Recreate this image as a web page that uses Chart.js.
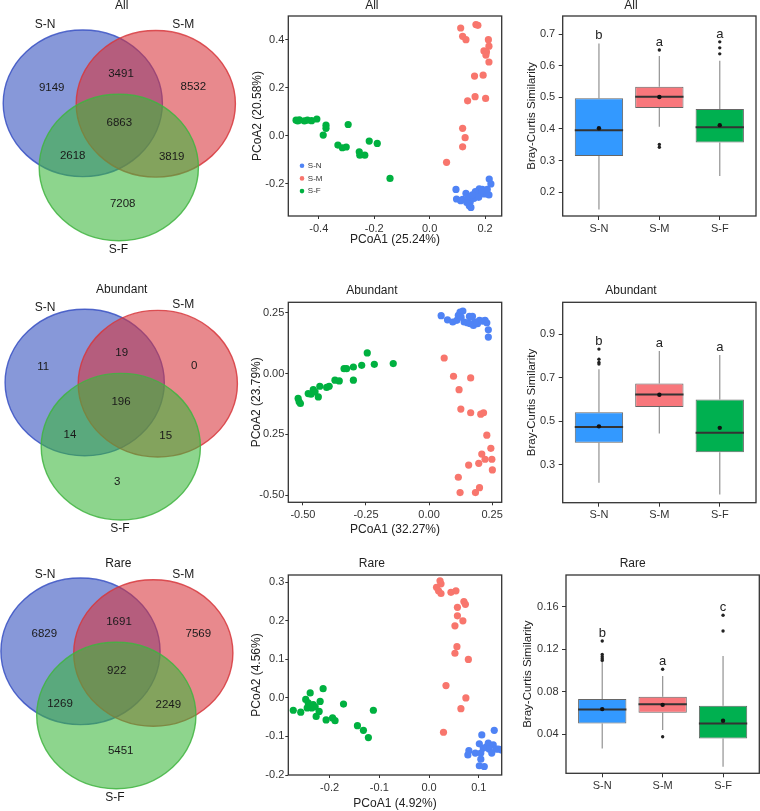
<!DOCTYPE html>
<html>
<head>
<meta charset="utf-8">
<script src="https://cdn.jsdelivr.net/npm/chart.js@4.4.1/dist/chart.umd.min.js"></script>
<style>
  body { margin: 0; background: #fff; width: 760px; height: 811px; overflow: hidden; position: relative; }
  canvas { position: absolute; }
</style>
</head>
<body>
<script>
// ---- data ----
const groups = ['S-N', 'S-M', 'S-F'];

// Venn counts: [N only, M only, F only, N&M, N&F, M&F, all three]
const vennAll = [9149, 8532, 7208, 3491, 2618, 3819, 6863];
const vennAbundant = [11, 0, 3, 19, 14, 15, 196];
const vennRare = [6829, 7569, 5451, 1691, 1269, 2249, 922];

// PCoA scores [PCoA1, PCoA2]
const allN = [[0.095,-0.224],[0.097,-0.264],[0.119,-0.265],[0.131,-0.240],[0.140,-0.257],[0.146,-0.278],[0.143,-0.292],[0.149,-0.299],[0.160,-0.261],[0.172,-0.238],[0.179,-0.222],[0.188,-0.236],[0.197,-0.243],[0.206,-0.240],[0.214,-0.247],[0.215,-0.181],[0.221,-0.201],[0.165,-0.233],[0.177,-0.257],[0.190,-0.224],[0.208,-0.224],[0.112,-0.271],[0.134,-0.279],[0.154,-0.247]];
const allM = [[0.112,0.450],[0.167,0.464],[0.174,0.461],[0.119,0.415],[0.131,0.401],[0.212,0.401],[0.214,0.374],[0.196,0.354],[0.205,0.350],[0.203,0.337],[0.214,0.308],[0.162,0.249],[0.193,0.253],[0.137,0.146],[0.164,0.163],[0.202,0.156],[0.119,0.031],[0.128,-0.008],[0.119,-0.046],[0.061,-0.111]];
const allF = [[-0.482,0.065],[-0.470,0.066],[-0.441,0.065],[-0.426,0.063],[-0.407,0.070],[-0.374,0.044],[-0.374,0.031],[-0.384,0.003],[-0.294,0.047],[-0.331,-0.039],[-0.315,-0.050],[-0.301,-0.047],[-0.254,-0.067],[-0.252,-0.081],[-0.234,-0.081],[-0.218,-0.022],[-0.189,-0.032],[-0.143,-0.178],[-0.476,0.062],[-0.452,0.062]];

const abN = [[0.048,0.238],[0.073,0.221],[0.094,0.212],[0.110,0.219],[0.116,0.239],[0.123,0.253],[0.134,0.257],[0.127,0.232],[0.139,0.212],[0.152,0.209],[0.160,0.235],[0.172,0.235],[0.176,0.198],[0.192,0.205],[0.200,0.219],[0.212,0.216],[0.222,0.219],[0.229,0.209],[0.235,0.180],[0.235,0.150],[0.183,0.212],[0.163,0.205]];
const abM = [[0.060,0.064],[0.097,-0.011],[0.165,-0.018],[0.119,-0.066],[0.126,-0.146],[0.165,-0.161],[0.205,-0.167],[0.216,-0.161],[0.229,-0.253],[0.245,-0.307],[0.209,-0.331],[0.222,-0.352],[0.249,-0.352],[0.197,-0.369],[0.157,-0.376],[0.251,-0.396],[0.116,-0.426],[0.200,-0.469],[0.123,-0.489],[0.184,-0.489]];
const abF = [[-0.519,-0.102],[-0.515,-0.116],[-0.510,-0.123],[-0.479,-0.082],[-0.468,-0.085],[-0.459,-0.066],[-0.452,-0.075],[-0.439,-0.096],[-0.433,-0.052],[-0.406,-0.057],[-0.396,-0.052],[-0.373,-0.027],[-0.356,-0.030],[-0.337,0.020],[-0.327,0.020],[-0.300,0.027],[-0.300,-0.027],[-0.267,0.034],[-0.245,0.085],[-0.217,0.038],[-0.142,0.041]];

const rareN = [[0.106,-0.096],[0.131,-0.084],[0.119,-0.117],[0.116,-0.126],[0.129,-0.122],[0.135,-0.133],[0.121,-0.133],[0.126,-0.143],[0.109,-0.130],[0.101,-0.119],[0.080,-0.137],[0.078,-0.148],[0.093,-0.143],[0.104,-0.143],[0.104,-0.159],[0.101,-0.176],[0.111,-0.178],[0.140,-0.133],[0.146,-0.135]];
const rareM = [[0.022,0.304],[0.024,0.296],[0.015,0.287],[0.019,0.278],[0.024,0.271],[0.044,0.274],[0.054,0.278],[0.070,0.250],[0.073,0.243],[0.057,0.235],[0.057,0.213],[0.068,0.200],[0.052,0.187],[0.056,0.133],[0.052,0.116],[0.079,0.100],[0.034,0.032],[0.074,0.000],[0.064,-0.028],[0.029,-0.089]];
const rareF = [[-0.273,-0.032],[-0.258,-0.037],[-0.248,-0.004],[-0.243,-0.013],[-0.239,-0.022],[-0.236,-0.026],[-0.245,-0.026],[-0.239,0.013],[-0.233,-0.017],[-0.229,-0.023],[-0.227,-0.048],[-0.221,-0.035],[-0.219,-0.009],[-0.213,0.024],[-0.207,-0.057],[-0.194,-0.052],[-0.189,-0.059],[-0.172,-0.016],[-0.144,-0.072],[-0.132,-0.084],[-0.122,-0.103],[-0.112,-0.032]];

// PCoA axis ranges and ticks
const allXRange = [-0.51, 0.26], allYRange = [-0.335, 0.5];
const allXTicks = [-0.4, -0.2, 0, 0.2], allXLabels = ['-0.4', '-0.2', '0.0', '0.2'];
const allYTicks = [-0.2, 0, 0.2, 0.4], allYLabels = ['-0.2', '0.0', '0.2', '0.4'];
const abXRange = [-0.558, 0.288], abYRange = [-0.529, 0.293];
const abXTicks = [-0.5, -0.25, 0, 0.25], abXLabels = ['-0.50', '-0.25', '0.00', '0.25'];
const abYTicks = [-0.5, -0.25, 0, 0.25], abYLabels = ['-0.50', '0.25', '0.00', '0.25'];
const rareXRange = [-0.283, 0.146], rareYRange = [-0.2, 0.319];
const rareXTicks = [-0.2, -0.1, 0, 0.1], rareXLabels = ['-0.2', '-0.1', '0.0', '0.1'];
const rareYTicks = [-0.2, -0.1, 0, 0.1, 0.2, 0.3], rareYLabels = ['-0.2', '-0.1', '0.0', '0.1', '0.2', '0.3'];

// Bray-Curtis boxes: [lower whisker, Q1, median, Q3, upper whisker]
const allBox = [[0.145, 0.314, 0.396, 0.497, 0.671], [0.407, 0.466, 0.502, 0.534, 0.631], [0.251, 0.357, 0.405, 0.463, 0.616]];
const allMeans = [0.402, 0.501, 0.412];
const allOutliers = [[], [0.650, 0.351, 0.342], [0.638, 0.657, 0.676]];
const allLetters = ['b', 'a', 'a'];
const abBox = [[0.218, 0.402, 0.474, 0.542, 0.739], [0.444, 0.566, 0.623, 0.674, 0.823], [0.164, 0.358, 0.447, 0.600, 0.805]];
const abMeans = [0.477, 0.622, 0.470];
const abOutliers = [[0.832, 0.785, 0.770, 0.763], [], []];
const abLetters = ['b', 'a', 'a'];
const rareBox = [[0.0267, 0.0502, 0.0634, 0.0731, 0.108], [0.0440, 0.0602, 0.0682, 0.0753, 0.0948], [0.0094, 0.0361, 0.0502, 0.0668, 0.1136]];
const rareMeans = [0.0637, 0.0677, 0.0527];
const rareOutliers = [[0.1277, 0.1150, 0.1130, 0.1110, 0.1095], [0.1011, 0.0377], [0.1371, 0.1520]];
const rareLetters = ['b', 'a', 'c'];

const allBoxRange = [0.124, 0.758], allBoxTicks = [0.2, 0.3, 0.4, 0.5, 0.6, 0.7];
const abBoxRange = [0.126, 1.047], abBoxTicks = [0.3, 0.5, 0.7, 0.9];
const rareBoxRange = [0.0033, 0.1898], rareBoxTicks = [0.04, 0.08, 0.12, 0.16];

// ---- styles & layout ----
const FONT = '"Liberation Sans", Arial, Helvetica, sans-serif';
const pointColors = ['#4F83F5', '#F8766D', '#00B140'];
const boxColors = ['#3399FF', '#F8777C', '#00B050'];
const vennFill = ['rgba(48,78,190,0.58)', 'rgba(215,52,58,0.58)', 'rgba(58,182,58,0.58)'];
const vennLine = ['rgba(55,80,195,0.85)', 'rgba(215,55,60,0.85)', 'rgba(65,180,65,0.85)'];
const vennRadius = [79.6, 73.3];

const vennLayouts = [
  { centers: [[82.8,103.3],[155.8,103.8],[118.8,167.5]], counts: [[51.7,88.3],[193.3,87.3],[122.7,204],[121,74],[72.7,156],[171.7,157.3],[119.3,123.3]], labels: [[45,25],[183.3,25],[118.3,250]], title: [121.7,6] },
  { centers: [[84.7,112.5],[157.8,113.7],[120.8,176.7]], counts: [[43.3,96.7],[194.3,95.7],[117.3,212.3],[121.7,82.7],[70,165],[165.7,166],[121,131.7]], labels: [[45,37.3],[183.3,35],[120,258.3]], title: [121.7,20] },
  { centers: [[80.5,111.3],[153.3,113],[116.3,175.5]], counts: [[44.3,94],[198.3,94.3],[120.7,211],[119,81.7],[60,164],[168.3,165],[116.7,131]], labels: [[45,35],[183.3,35],[115,257.3]], title: [118.3,23.3] }
];

Chart.defaults.font.family = FONT;
Chart.defaults.color = '#333';
Chart.defaults.animation = false;
Chart.defaults.responsive = false;
Chart.defaults.devicePixelRatio = 1;
Chart.defaults.events = [];
Chart.defaults.plugins.legend.display = false;
Chart.defaults.plugins.tooltip.enabled = false;

function addCanvas(left, top, w, h) {
  const c = document.createElement('canvas');
  c.width = w; c.height = h;
  c.style.left = left + 'px'; c.style.top = top + 'px';
  c.style.width = w + 'px'; c.style.height = h + 'px';
  document.body.appendChild(c);
  return c;
}

const framePlugin = {
  id: 'frame',
  afterDatasetsDraw(chart) {
    const { ctx, chartArea: a } = chart;
    ctx.save();
    ctx.strokeStyle = '#333';
    ctx.lineWidth = 1.3;
    ctx.strokeRect(a.left, a.top, a.right - a.left, a.bottom - a.top);
    ctx.restore();
  }
};

function geometry(p, cl, titleY, bottom) {
  const ct = Math.round(p.t - 30);
  const cw = Math.round(p.r - cl) + 6;
  const ch = Math.round(bottom - ct);
  const tTop = titleY - ct - 7.2;
  return { ct, cw, ch, padRight: cw - (p.r - cl), titlePad: { top: tTop, bottom: (p.t - ct) - 14.4 - tTop }, yWidth: p.l - cl, xHeight: (ct + ch) - p.b };
}

function axis(o) {
  const horiz = o.pos === 'x';
  return {
    type: 'linear', min: o.range[0], max: o.range[1], offset: false,
    afterBuildTicks: s => { s.ticks = o.ticks.map(v => ({ value: v })); },
    afterFit: s => { if (horiz) s.height = o.size; else s.width = o.size; },
    ticks: { autoSkip: false, maxRotation: 0, padding: o.pad, font: { size: 11 }, color: '#333', callback: (v, i) => o.labels[i] },
    grid: { drawOnChartArea: false, drawTicks: true, tickLength: o.tl, color: '#333', offset: false },
    border: { display: false },
    title: o.title ? { display: true, text: o.title, font: { size: o.tfs || 12 }, color: '#222', padding: horiz ? { top: 0, bottom: o.tpad } : { top: o.tpad, bottom: 0 } } : { display: false }
  };
}

function vennChart(top, h, title, counts, lay) {
  const canvas = addCanvas(0, top, 240, h);
  new Chart(canvas, {
    type: 'scatter',
    data: { datasets: groups.map((g, i) => ({ label: g, data: [{ x: lay.centers[i][0], y: lay.centers[i][1] }], pointRadius: 0, backgroundColor: vennFill[i], borderColor: vennLine[i] })) },
    options: {
      layout: { padding: 0 },
      scales: { x: { type: 'linear', display: false, min: 0, max: 240 }, y: { type: 'linear', display: false, min: 0, max: h, reverse: true } }
    },
    plugins: [{
      id: 'venn',
      afterDatasetsDraw(chart) {
        const { ctx, scales: { x, y } } = chart;
        const rx = Math.abs(x.getPixelForValue(vennRadius[0]) - x.getPixelForValue(0));
        const ry = Math.abs(y.getPixelForValue(vennRadius[1]) - y.getPixelForValue(0));
        ctx.save();
        chart.data.datasets.forEach((ds, i) => {
          const pt = chart.getDatasetMeta(i).data[0];
          ctx.beginPath();
          ctx.ellipse(pt.x, pt.y, rx, ry, 0, 0, Math.PI * 2);
          ctx.fillStyle = ds.backgroundColor;
          ctx.fill();
          ctx.lineWidth = 1.4;
          ctx.strokeStyle = ds.borderColor;
          ctx.stroke();
        });
        ctx.textAlign = 'center';
        ctx.textBaseline = 'middle';
        ctx.fillStyle = '#1a1a1a';
        ctx.font = '11.5px ' + FONT;
        counts.forEach((n, i) => ctx.fillText(String(n), x.getPixelForValue(lay.counts[i][0]), y.getPixelForValue(lay.counts[i][1])));
        ctx.font = '12px ' + FONT;
        groups.forEach((g, i) => ctx.fillText(g, x.getPixelForValue(lay.labels[i][0]), y.getPixelForValue(lay.labels[i][1])));
        ctx.fillText(title, x.getPixelForValue(lay.title[0]), y.getPixelForValue(lay.title[1]));
        ctx.restore();
      }
    }]
  });
}

function pcoaChart(c) {
  const cl = 242;
  const g = geometry(c.plot, cl, c.titleY, c.xTitleY + 9.2);
  const canvas = addCanvas(cl, g.ct, g.cw, g.ch);
  const xPad = (g.ct + g.ch) - c.xTitleY - 7.2;
  const plugins = [framePlugin];
  if (c.legend) {
    plugins.push({
      id: 'insideLegend',
      afterDatasetsDraw(chart) {
        const { ctx, chartArea: a } = chart;
        ctx.save();
        ctx.font = '8px ' + FONT;
        ctx.textBaseline = 'middle';
        chart.data.datasets.forEach((ds, i) => {
          const yy = a.top + 149.7 + i * 12.7;
          ctx.fillStyle = ds.backgroundColor;
          ctx.beginPath(); ctx.arc(a.left + 13.7, yy, 2.3, 0, Math.PI * 2); ctx.fill();
          ctx.fillStyle = '#333';
          ctx.fillText(ds.label, a.left + 19.5, yy);
        });
        ctx.restore();
      }
    });
  }
  new Chart(canvas, {
    type: 'scatter',
    data: { datasets: c.sets.map((s, i) => ({ label: groups[i], data: s.map(p => ({ x: p[0], y: p[1] })), backgroundColor: pointColors[i], pointRadius: 3.6, borderWidth: 0 })) },
    options: {
      layout: { padding: { left: 0, top: 0, right: g.padRight, bottom: 0 } },
      plugins: { title: { display: true, text: c.title, font: { size: 12, weight: 'normal' }, color: '#222', padding: g.titlePad } },
      scales: {
        x: axis({ pos: 'x', range: c.xRange, ticks: c.xTicks, labels: c.xLabels, size: g.xHeight, pad: 3, tl: 3, title: c.xTitle, tpad: xPad }),
        y: axis({ pos: 'y', range: c.yRange, ticks: c.yTicks, labels: c.yLabels, size: g.yWidth, pad: 1, tl: 3, title: c.yTitle, tpad: c.yTitleX - cl - 7.2 })
      }
    },
    plugins
  });
}

function boxChart(c) {
  const cl = 506;
  const g = geometry(c.plot, cl, c.titleY, c.plot.b + 25);
  const canvas = addCanvas(cl, g.ct, g.cw, g.ch);
  const whiskers = [], medians = [], outPts = [];
  c.stats.forEach((s, i) => {
    const x = i + 1;
    whiskers.push({ x, y: s[0] }, { x, y: s[1] }, { x, y: null }, { x, y: s[3] }, { x, y: s[4] }, { x, y: null });
    medians.push({ x: x - 0.4, y: s[2] }, { x: x + 0.4, y: s[2] }, { x, y: null });
    c.outliers[i].forEach(v => outPts.push({ x, y: v }));
  });
  new Chart(canvas, {
    type: 'bar',
    data: { datasets: [
      { type: 'line', data: whiskers, borderColor: '#9a9a9a', borderWidth: 1.3, pointRadius: 0, order: 4 },
      { type: 'bar', data: c.stats.map((s, i) => ({ x: i + 1, y: [s[1], s[3]] })), backgroundColor: boxColors, borderColor: '#666', borderWidth: 1, borderSkipped: false, barPercentage: 0.8, categoryPercentage: 1, order: 3 },
      { type: 'line', data: medians, borderColor: '#333', borderWidth: 2, pointRadius: 0, order: 2 },
      { type: 'scatter', data: c.means.map((m, i) => ({ x: i + 1, y: m })), pointRadius: 2.2, backgroundColor: '#111', borderWidth: 0, order: 1 },
      { type: 'scatter', data: outPts, pointRadius: 1.7, backgroundColor: '#222', borderWidth: 0, order: 1 }
    ] },
    options: {
      layout: { padding: { left: 0, top: 0, right: g.padRight, bottom: 0 } },
      plugins: { title: { display: true, text: c.title, font: { size: 12, weight: 'normal' }, color: '#222', padding: g.titlePad } },
      scales: {
        x: axis({ pos: 'x', range: [0.4, 3.6], ticks: [1, 2, 3], labels: groups, size: g.xHeight, pad: 2, tl: 4 }),
        y: axis({ pos: 'y', range: c.yRange, ticks: c.yTicks, labels: c.yTicks.map(v => String(v)), size: g.yWidth, pad: 3.5, tl: 4, title: 'Bray-Curtis Similarity', tfs: 11.5, tpad: c.yTitleX - cl - 6.9 })
      }
    },
    plugins: [framePlugin, {
      id: 'letters',
      afterDatasetsDraw(chart) {
        const { ctx, scales: { x, y } } = chart;
        ctx.save();
        ctx.font = '13px ' + FONT;
        ctx.fillStyle = '#222';
        ctx.textAlign = 'center';
        ctx.textBaseline = 'alphabetic';
        c.letters.forEach((t, i) => {
          const topVal = Math.max(c.stats[i][4], ...c.outliers[i]);
          ctx.fillText(t, x.getPixelForValue(i + 1), y.getPixelForValue(topVal) - 4);
        });
        ctx.restore();
      }
    }]
  });
}

// ---- build panels ----
vennChart(0, 270, 'All', vennAll, vennLayouts[0]);
vennChart(270, 270, 'Abundant', vennAbundant, vennLayouts[1]);
vennChart(540, 271, 'Rare', vennRare, vennLayouts[2]);

pcoaChart({ plot: { l: 288.3, t: 16, r: 501.7, b: 216 }, titleY: 6, xTitleY: 240, yTitleX: 258, title: 'All', sets: [allN, allM, allF],
  xRange: allXRange, yRange: allYRange, xTicks: allXTicks, xLabels: allXLabels, yTicks: allYTicks, yLabels: allYLabels,
  xTitle: 'PCoA1 (25.24%)', yTitle: 'PCoA2 (20.58%)', legend: true });
pcoaChart({ plot: { l: 288.3, t: 302.3, r: 501.7, b: 502.3 }, titleY: 290.7, xTitleY: 530, yTitleX: 256.7, title: 'Abundant', sets: [abN, abM, abF],
  xRange: abXRange, yRange: abYRange, xTicks: abXTicks, xLabels: abXLabels, yTicks: abYTicks, yLabels: abYLabels,
  xTitle: 'PCoA1 (32.27%)', yTitle: 'PCoA2 (23.79%)' });
pcoaChart({ plot: { l: 288.3, t: 575, r: 501.7, b: 775 }, titleY: 563.3, xTitleY: 803.3, yTitleX: 256.7, title: 'Rare', sets: [rareN, rareM, rareF],
  xRange: rareXRange, yRange: rareYRange, xTicks: rareXTicks, xLabels: rareXLabels, yTicks: rareYTicks, yLabels: rareYLabels,
  xTitle: 'PCoA1 (4.92%)', yTitle: 'PCoA2 (4.56%)' });

boxChart({ plot: { l: 562.7, t: 16, r: 756, b: 216 }, titleY: 6, yTitleX: 532.3, title: 'All',
  stats: allBox, means: allMeans, outliers: allOutliers, letters: allLetters, yRange: allBoxRange, yTicks: allBoxTicks });
boxChart({ plot: { l: 562.7, t: 302.3, r: 756, b: 502.7 }, titleY: 290.7, yTitleX: 532.3, title: 'Abundant',
  stats: abBox, means: abMeans, outliers: abOutliers, letters: abLetters, yRange: abBoxRange, yTicks: abBoxTicks });
boxChart({ plot: { l: 566, t: 575, r: 759.3, b: 773.3 }, titleY: 563.3, yTitleX: 528.3, title: 'Rare',
  stats: rareBox, means: rareMeans, outliers: rareOutliers, letters: rareLetters, yRange: rareBoxRange, yTicks: rareBoxTicks });
</script>
</body>
</html>
